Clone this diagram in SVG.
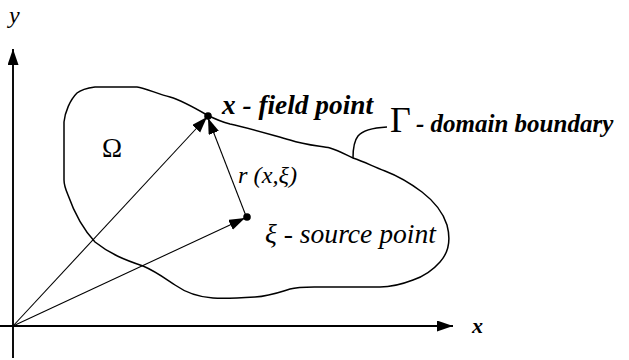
<svg xmlns="http://www.w3.org/2000/svg" width="629" height="360" viewBox="0 0 629 360" font-family="'Liberation Serif', 'Times New Roman', serif">
<style>
.ax{stroke:#000;stroke-width:1.9;fill:none}
.vec{stroke:#000;stroke-width:1.1;fill:none}
.bd{stroke:#000;stroke-width:1.5;fill:none;stroke-linejoin:round}
text{font-family:'Liberation Serif','Times New Roman',serif;fill:#000}
.i{font-style:italic}
.b{font-weight:bold}
</style>
<defs>
<marker id="ah" markerUnits="userSpaceOnUse" markerWidth="17" markerHeight="12" refX="16" refY="5.5" orient="auto">
<path d="M0,0 L16,5.5 L0,11 z" fill="#000"/>
</marker>
</defs>
<rect width="629" height="360" fill="#fff"/>
<g id="axes">
<line class="ax" x1="13" y1="358" x2="13" y2="49" marker-end="url(#ah)"/>
<line class="ax" x1="0" y1="326" x2="453" y2="326" marker-end="url(#ah)"/>
<text class="i" x="9" y="23" font-size="24">y</text>
<text class="i b" x="472" y="333" font-size="22">x</text>
</g>
<g id="domain">
<path class="bd" d="M64,180 L64,122 C65,112 70,100 77,93 C82,89 88,88 95,87 L137,87 C145,88 158,94 170,97 C180,100 195,108 207,115 C215,119 222,122 230,124 C245,127 265,133 290,140 C305,145 320,146 330,148 C340,151 348,156 353,158 C365,162 372,166 385,171 C398,176 410,183 422,192 C435,202 443,212 447,225 C451,240 449,252 440,262 C433,270 425,276 413,280 C400,285 390,287 380,287 L330,287 C310,287 300,286 290,289 C280,292 270,296 255,297 C240,298 225,299 213,298 C198,297 185,292 175,285 C163,277 155,271 143,266 C125,260 110,254 95,242 C82,228 74,212 68,195 C65,188 64,184 64,180 Z"/>
<text x="102" y="157" font-size="27">Ω</text>
</g>
<g id="boundary-label">
<path class="bd" d="M353,158 C353,150 354,141 358,136 C362,131 370,128 387,127"/>
<text x="390" y="132" font-size="36">Γ</text>
<text class="i b" x="416" y="132" font-size="25">- domain boundary</text>
</g>
<g id="field-point">
<circle cx="208" cy="116" r="3.8" fill="#000"/>
<text class="i b" x="222" y="114" font-size="28" textLength="151" lengthAdjust="spacingAndGlyphs">x - field point</text>
</g>
<g id="source-point">
<circle cx="247" cy="217" r="3.8" fill="#000"/>
<text class="i" x="265" y="243" font-size="27" textLength="171" lengthAdjust="spacingAndGlyphs">ξ - source point</text>
</g>
<g id="connectors">
<line class="vec" x1="13" y1="326" x2="207" y2="117" marker-end="url(#ah)"/>
<line class="vec" x1="13" y1="326" x2="245" y2="218" marker-end="url(#ah)"/>
<line class="vec" x1="246" y1="216" x2="208" y2="118" marker-end="url(#ah)"/>
<text class="i" x="238" y="183" font-size="23" textLength="59" lengthAdjust="spacingAndGlyphs">r (x,ξ)</text>
</g>
</svg>
